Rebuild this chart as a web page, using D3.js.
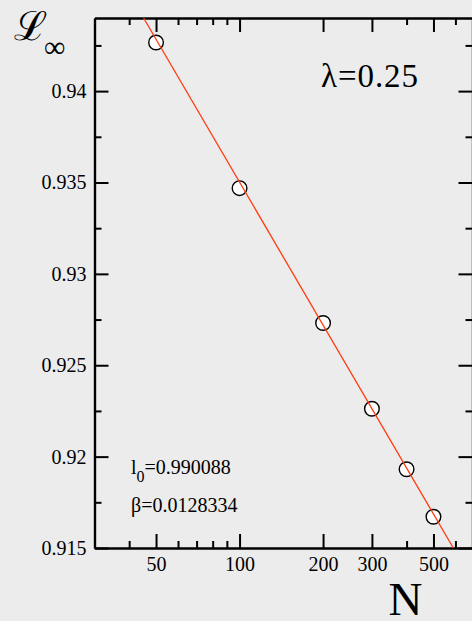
<!DOCTYPE html>
<html><head><meta charset="utf-8">
<script src="https://cdn.jsdelivr.net/npm/d3@7"></script>
<style>
html,body{margin:0;padding:0;background:#ececec;}
svg{display:block;}
text{font-family:"Liberation Serif","Times New Roman",serif;fill:#000;}
</style></head>
<body>
<script>
// data
const sizesN = [50, 100, 200, 300, 400, 500];
const valuesL = [0.94266, 0.93469, 0.92731, 0.92262, 0.91931, 0.91671];
const fitN = [45.1, 589.6];
const fitL = [0.944, 0.915];
const xMajorTicks = [50, 100, 200, 300, 500];
const xMinorTicks = [40, 60, 70, 80, 90, 400, 600];
const yMajorTicks = [0.915, 0.92, 0.925, 0.93, 0.935, 0.94];
const yMinorTicks = [0.9175, 0.9225, 0.9275, 0.9325, 0.9375, 0.9425];
const yTickLabels = ["0.915", "0.92", "0.925", "0.93", "0.935", "0.94"];
const lambdaText = "λ=0.25";
const l0Value = "0.990088";
const betaValue = "0.0128334";

const W = 472, H = 621;
const pLeft = 94.5, pRight = 474, pTop = 18, pBottom = 548;
const svg = d3.select("body").append("svg").attr("width", W).attr("height", H);
svg.append("rect").attr("width", W).attr("height", H).attr("fill", "#ececec");

const x = d3.scaleLog().domain([30, 700]).range([pLeft, pRight]);
const y = d3.scaleLinear().domain([0.915, 0.944]).range([pBottom, pTop]);

function styleAxis(g) {
  g.selectAll("path.domain").attr("stroke", "#000").attr("stroke-width", 2.2);
  g.selectAll(".tick line").attr("stroke", "#000").attr("stroke-width", 2);
  g.selectAll(".tick text").attr("font-size", 20).attr("font-family", '"Liberation Serif",serif');
}

// left axis
const gl = svg.append("g").attr("transform", `translate(${pLeft},0)`);
gl.call(d3.axisLeft(y).tickValues(yMajorTicks).tickFormat((d, i) => yTickLabels[i]).tickSize(-14).tickSizeOuter(0).tickPadding(8));
styleAxis(gl);
const glm = svg.append("g").attr("transform", `translate(${pLeft},0)`);
glm.call(d3.axisLeft(y).tickValues(yMinorTicks).tickFormat("").tickSize(-7).tickSizeOuter(0));
styleAxis(glm);

// right axis
const gr = svg.append("g").attr("transform", `translate(${pRight - 1.5},0)`);
gr.call(d3.axisRight(y).tickValues(yMajorTicks).tickFormat("").tickSize(-14).tickSizeOuter(0));
styleAxis(gr);
const grm = svg.append("g").attr("transform", `translate(${pRight - 1.5},0)`);
grm.call(d3.axisRight(y).tickValues(yMinorTicks).tickFormat("").tickSize(-7).tickSizeOuter(0));
styleAxis(grm);

// bottom axis
const gb = svg.append("g").attr("transform", `translate(0,${pBottom})`);
gb.call(d3.axisBottom(x).tickValues(xMajorTicks).tickFormat(d3.format("d")).tickSize(-14).tickSizeOuter(0).tickPadding(9));
styleAxis(gb);
const gbm = svg.append("g").attr("transform", `translate(0,${pBottom})`);
gbm.call(d3.axisBottom(x).tickValues(xMinorTicks).tickFormat("").tickSize(-7).tickSizeOuter(0));
styleAxis(gbm);

// top axis
const gt = svg.append("g").attr("transform", `translate(0,${pTop})`);
gt.call(d3.axisTop(x).tickValues(xMajorTicks).tickFormat("").tickSize(-14).tickSizeOuter(0));
styleAxis(gt);
const gtm = svg.append("g").attr("transform", `translate(0,${pTop})`);
gtm.call(d3.axisTop(x).tickValues(xMinorTicks).tickFormat("").tickSize(-7).tickSizeOuter(0));
styleAxis(gtm);

// points
svg.append("g").selectAll("circle").data(sizesN).join("circle")
  .attr("cx", d => x(d)).attr("cy", (d, i) => y(valuesL[i]))
  .attr("r", 7.3).attr("fill", "#ffffff").attr("stroke", "#000").attr("stroke-width", 1.4);

// fit line
const line = d3.line().x(d => x(d[0])).y(d => y(d[1]));
svg.append("path").datum(fitN.map((n, i) => [n, fitL[i]]))
  .attr("d", line).attr("fill", "none").attr("stroke", "#ff3a10").attr("stroke-width", 1.3);

// labels
svg.append("text").attr("x", 321).attr("y", 86.5).attr("font-size", 33)
  .attr("font-family", '"DejaVu Serif","Liberation Serif",serif').attr("textLength", 97).text(lambdaText);

const t1 = svg.append("text").attr("x", 131).attr("y", 473.5).attr("font-size", 20);
t1.append("tspan").text("l");
t1.append("tspan").attr("dy", 8).attr("font-size", 16).text("0");
t1.append("tspan").attr("dy", -8).text("=" + l0Value);
svg.append("text").attr("x", 131).attr("y", 511.5).attr("font-size", 20).text("β=" + betaValue);

svg.append("text").attr("x", 405.5).attr("y", 615).attr("text-anchor", "middle").attr("font-size", 47).text("N");

const yl = svg.append("text").attr("x", 14).attr("y", 40).attr("font-size", 40)
  .attr("font-family", '"DejaVu Serif",serif');
yl.append("tspan").text("ℒ");
yl.append("tspan").attr("x", 44).attr("y", 57).attr("font-size", 30)
  .attr("font-family", '"Liberation Serif",serif').text("∞");
</script>
</body></html>
